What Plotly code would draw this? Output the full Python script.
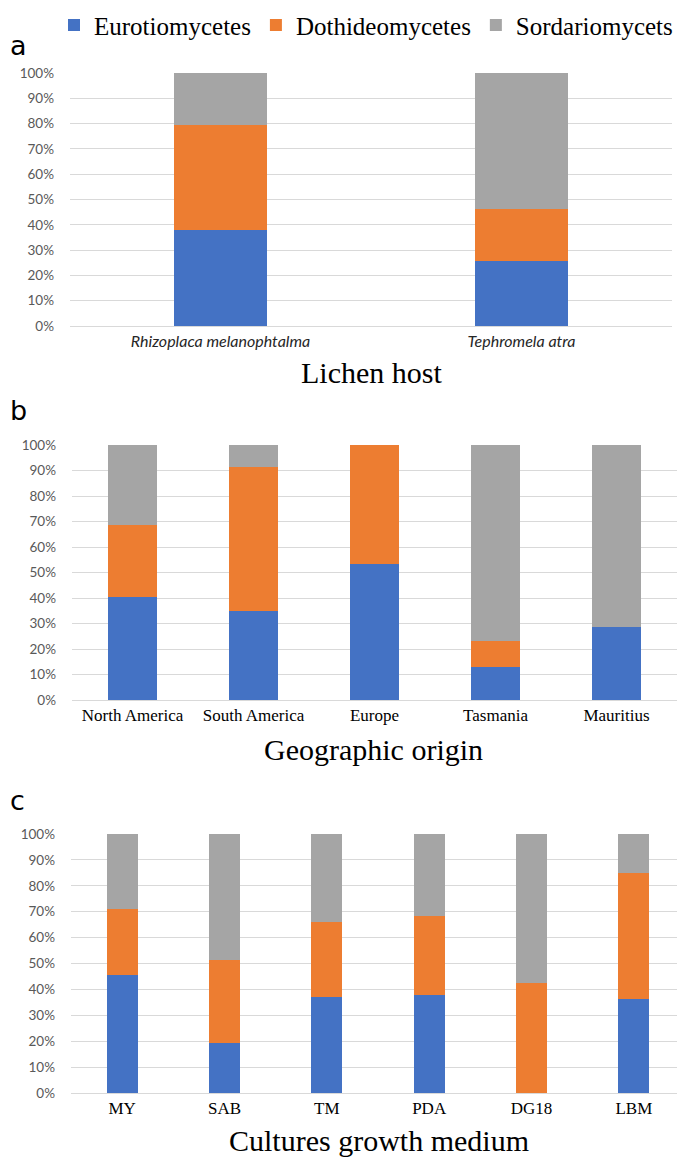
import plotly.graph_objects as go

# ---- data ----
series_names = ["Eurotiomycetes", "Dothideomycetes", "Sordariomycets"]
series_colors = ["#4472C4", "#ED7D31", "#A5A5A5"]

lichen_hosts = ["Rhizoplaca melanophtalma", "Tephromela atra"]
lichen_euro = [37.9, 25.7]
lichen_doth = [41.6, 20.4]
lichen_sord = [20.5, 53.9]

geo_origins = ["North America", "South America", "Europe", "Tasmania", "Mauritius"]
geo_euro = [40.3, 35.0, 53.5, 12.9, 28.5]
geo_doth = [28.2, 56.2, 46.5, 10.2, 0.0]
geo_sord = [31.5, 8.8, 0.0, 76.9, 71.5]

media = ["MY", "SAB", "TM", "PDA", "DG18", "LBM"]
med_euro = [45.7, 19.2, 37.2, 37.7, 0.0, 36.3]
med_doth = [25.5, 32.2, 28.9, 30.7, 42.3, 48.6]
med_sord = [28.8, 48.6, 33.9, 31.6, 57.7, 15.1]

# page body has an 8px margin; figure is sized to fit the window
OFF = 8
W, H = 685 - OFF, 1158 - OFF
fig = go.Figure()

panels = [
    (lichen_hosts, [lichen_euro, lichen_doth, lichen_sord], "x", "y", 0.31),
    (geo_origins, [geo_euro, geo_doth, geo_sord], "x2", "y2", 0.40),
    (media, [med_euro, med_doth, med_sord], "x3", "y3", 0.30),
]
for pi, (cats, vals, xa, ya, bw) in enumerate(panels):
    for si in range(3):
        fig.add_trace(go.Bar(
            x=cats, y=vals[si], name=series_names[si],
            marker=dict(color=series_colors[si], line=dict(width=0)),
            width=bw, xaxis=xa, yaxis=ya,
            legendgroup=series_names[si], showlegend=(pi == 0),
        ))

def px_x(p):
    return (p - OFF) / W

def px_y(p):
    return 1 - (p - OFF) / H

grid = "#D9D9D9"
ytick_font = dict(family="Lato", size=13.5, color="#595959")
yaxis_common = dict(range=[0, 100], dtick=10, ticksuffix="%", showgrid=True,
                    gridcolor=grid, gridwidth=1, zeroline=False, showline=False,
                    tickfont=ytick_font, ticks="", ticklabelstandoff=15, fixedrange=True)
xaxis_common = dict(showgrid=False, zeroline=False, showline=True, linecolor=grid,
                    linewidth=1, ticks="", fixedrange=True)

fig.update_layout(
    width=W, height=H,
    margin=dict(l=0, r=0, t=0, b=0, pad=0, autoexpand=False),
    paper_bgcolor="white", plot_bgcolor="white",
    barmode="stack",
    showlegend=True,
    legend=dict(orientation="h", x=px_x(54), y=1.005, xanchor="left", yanchor="top",
                font=dict(family="Liberation Serif", size=25, color="#000000"),
                itemwidth=30, tracegroupgap=0, bgcolor="rgba(0,0,0,0)"),
    xaxis=dict(domain=[px_x(70), px_x(672)], anchor="y",
               tickfont=dict(family="Lato", size=16, color="#262626", style="italic"),
               ticklabelstandoff=1, **xaxis_common),
    yaxis=dict(domain=[px_y(326), px_y(73)], anchor="x", **yaxis_common),
    xaxis2=dict(domain=[px_x(72), px_x(677)], anchor="y2",
                tickfont=dict(family="Liberation Serif", size=17, color="#000000"),
                ticklabelstandoff=0, **xaxis_common),
    yaxis2=dict(domain=[px_y(700), px_y(445)], anchor="x2", **yaxis_common),
    xaxis3=dict(domain=[px_x(71), px_x(685)], anchor="y3",
                tickfont=dict(family="Liberation Serif", size=17, color="#000000"),
                ticklabelstandoff=0, **xaxis_common),
    yaxis3=dict(domain=[px_y(1093), px_y(834)], anchor="x3", **yaxis_common),
)

titles = [("Lichen host", 371, 372), ("Geographic origin", 373, 749), ("Cultures growth medium", 379, 1140)]
for t, cx, cy in titles:
    fig.add_annotation(text=t, x=px_x(cx), y=px_y(cy), xref="paper", yref="paper",
                       xanchor="center", yanchor="middle", showarrow=False,
                       font=dict(family="Liberation Serif", size=30, color="#000000"))

labels = [("a", 45), ("b", 410), ("c", 800)]
for t, cy in labels:
    fig.add_annotation(text=t, x=px_x(OFF), y=px_y(cy), xref="paper", yref="paper",
                       xanchor="left", yanchor="middle", showarrow=False,
                       font=dict(family="DejaVu Sans", size=27, color="#000000"))

fig.write_html("out.html")
